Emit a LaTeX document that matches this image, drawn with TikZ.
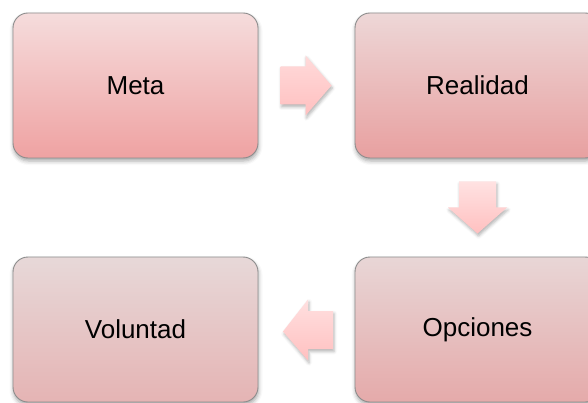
\documentclass[tikz,border=0pt]{standalone}
\usepackage{fontspec}
\setmainfont{Liberation Sans}
\usetikzlibrary{calc,shadows.blur}

\definecolor{edgegray}{RGB}{140,140,140}
\definecolor{metatop}{RGB}{245,220,220}
\definecolor{metalow}{RGB}{239,162,162}
\definecolor{realtop}{RGB}{237,215,215}
\definecolor{reallow}{RGB}{232,160,160}
\definecolor{voltop}{RGB}{231,216,216}
\definecolor{vollow}{RGB}{229,180,180}
\definecolor{opctop}{RGB}{232,214,214}
\definecolor{opclow}{RGB}{229,170,170}
\definecolor{arrowtopa}{RGB}{255,218,218}
\definecolor{arrowtopb}{RGB}{255,226,226}
\definecolor{arrowtopc}{RGB}{255,224,224}
\definecolor{arrowlow}{RGB}{255,192,192}

\tikzset{
  stage/.style 2 args={
    rounded corners=15pt, draw=edgegray, line width=0.9pt,
    top color=#1, bottom color=#2,
    minimum width=245pt, minimum height=145pt, inner sep=0pt,
    font=\fontsize{26}{30}\selectfont,
    blur shadow={shadow xshift=0.5pt, shadow yshift=-3pt,
                 shadow blur radius=4pt, shadow opacity=35}
  },
  blockarrow/.style={
    top color=#1, bottom color=arrowlow,
    blur shadow={shadow xshift=1pt, shadow yshift=-2.5pt,
                 shadow blur radius=3pt, shadow opacity=30}
  }
}

\begin{document}
\begin{tikzpicture}[x=1pt,y=-1pt]
  \useasboundingbox (0,0) rectangle (588,403);
  \clip (0,0) rectangle (588,403);

  % the four stages
  \node[stage={metatop}{metalow}] (meta) at (135.5,85.5) {Meta};
  \node[stage={realtop}{reallow}] (realidad) at (477.5,85.5) {Realidad};
  \node[stage={voltop}{vollow}] (voluntad) at (135.5,329.5) {Voluntad};
  \node[stage={opctop}{opclow}] (opciones) at (477.5,329.5) {Opciones};

  % centres of the block arrows between the stages
  \coordinate (c1) at ($(meta.east)!0.5!(realidad.west)$);
  \coordinate (c2) at ($(realidad.south)!0.5!(opciones.north)$);
  \coordinate (c3) at ($(opciones.west)!0.5!(voluntad.east)$);

  % Meta -> Realidad
  \path[blockarrow=arrowtopa]
    ([shift={(-26,-19)}]c1) -- ([shift={(-1,-19)}]c1) -- ([shift={(-1,-30)}]c1)
    -- ([shift={(25,0)}]c1) -- ([shift={(-1,30)}]c1) -- ([shift={(-1,19)}]c1)
    -- ([shift={(-26,19)}]c1) -- cycle;

  % Realidad -> Opciones
  \path[blockarrow=arrowtopb]
    ([shift={(-18.5,-26)}]c2) -- ([shift={(18.5,-26)}]c2) -- ([shift={(18.5,0)}]c2)
    -- ([shift={(29.5,0)}]c2) -- ([shift={(0,26)}]c2) -- ([shift={(-29.5,0)}]c2)
    -- ([shift={(-18.5,0)}]c2) -- cycle;

  % Opciones -> Voluntad
  \path[blockarrow=arrowtopc]
    ([shift={(26.5,-18.5)}]c3) -- ([shift={(1.5,-18.5)}]c3) -- ([shift={(1.5,-30)}]c3)
    -- ([shift={(-23.5,2)}]c3) -- ([shift={(1.5,31)}]c3) -- ([shift={(1.5,19.5)}]c3)
    -- ([shift={(26.5,19.5)}]c3) -- cycle;
\end{tikzpicture}
\end{document}
